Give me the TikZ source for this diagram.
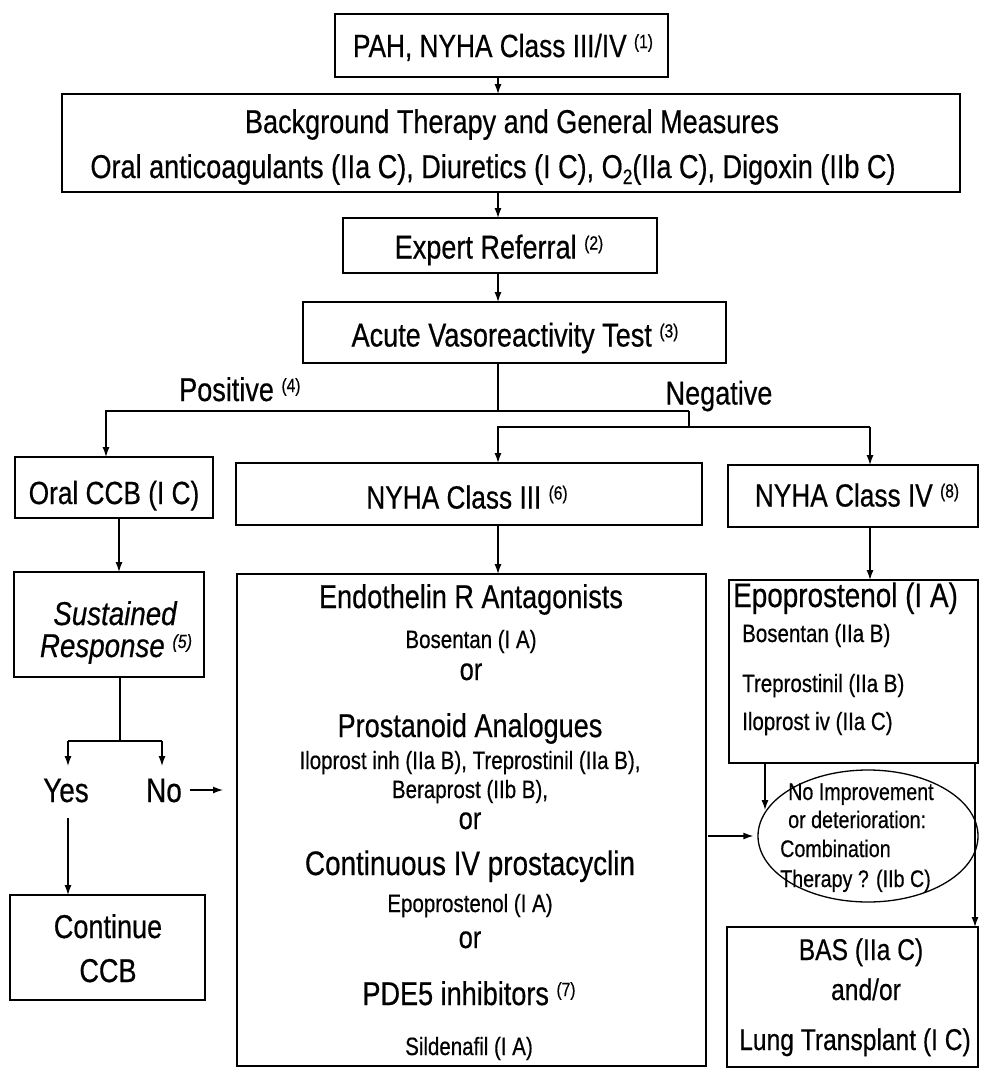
\documentclass[tikz,border=0pt]{standalone}
\usepackage{fontspec}
\setmainfont{Liberation Sans}[FakeStretch=0.82,FakeBold=0.5]
\newfontfamily\itfont{Liberation Sans Italic}[FakeStretch=0.84,FakeBold=0.5]
\usetikzlibrary{arrows.meta,shapes.geometric}
\newcommand\fsz[1]{\fontsize{#1}{#1}\selectfont}
\newcommand\refn[1]{\raisebox{9pt}{\fsz{19}(#1)}}
\begin{document}
\begin{tikzpicture}[x=1pt,y=-1pt,
  box/.style={draw, line width=1.8pt, inner sep=0pt, outer sep=0pt},
  tx/.style={inner sep=1pt, anchor=base},
  txl/.style={inner sep=1pt, anchor=base west},
  ln/.style={line width=1.3pt},
  arr/.style={line width=1.3pt, -{Latex[length=10pt,width=7pt]}}]
\useasboundingbox (0,0) rectangle (981,1068);

% ---------- boxes ----------
\node[box, minimum width=333pt, minimum height=63pt] (pah) at (501.5,45.5) {};
\node[box, minimum width=898pt, minimum height=98pt] (bg) at (511,143) {};
\node[box, minimum width=314pt, minimum height=55pt] (exp) at (500,245.5) {};
\node[box, minimum width=423pt, minimum height=61pt] (avt) at (514.5,332.5) {};
\node[box, minimum width=198pt, minimum height=61pt] (ccb) at (114,487.5) {};
\node[box, minimum width=466pt, minimum height=62pt] (n3) at (469,494) {};
\node[box, minimum width=250pt, minimum height=62pt] (n4) at (853,496) {};
\node[box, minimum width=190pt, minimum height=105pt] (sus) at (109,624.5) {};
\node[box, minimum width=195pt, minimum height=105pt] (cont) at (107.5,947.5) {};
\node[box, minimum width=469pt, minimum height=492pt] (big) at (471.5,820) {};
\node[box, minimum width=249pt, minimum height=183pt] (epo) at (853.5,671.5) {};
\node[box, minimum width=251pt, minimum height=140pt] (bas) at (852.5,997) {};
\node[ellipse, draw, line width=1.3pt, inner sep=0pt, minimum width=220pt, minimum height=132pt] (ell) at (868,836) {};

% ---------- texts ----------
\node[tx] (tpah) at (503,57) {\fsz{32}PAH, NYHA Class III/IV \refn{1}};
\node[tx] (tbg1) at (512,133) {\fsz{33}Background Therapy and General Measures};
\node[tx] (tbg2) at (493,178) {\fsz{33}Oral anticoagulants (IIa C), Diuretics (I C), O\raisebox{-6pt}{\fsz{21}2}(IIa C), Digoxin (IIb C)};
\node[tx] (texp) at (499,258.5) {\fsz{33}Expert Referral \refn{2}};
\node[tx] (tavt) at (515,346.5) {\fsz{33}Acute Vasoreactivity Test \refn{3}};
\node[txl] (tpos) at (178,401) {\fsz{33}Positive \refn{4}};
\node[tx] (tneg) at (719,404.5) {\fsz{33}Negative};
\node[tx] (tccb) at (114,504) {\fsz{32}Oral CCB (I C)};
\node[tx] (tn3) at (467,508.5) {\fsz{32}NYHA Class III \refn{6}};
\node[tx] (tn4) at (857,506.5) {\fsz{32}NYHA Class IV \refn{8}};
\node[tx] (tsus1) at (115,625) {\itfont\fsz{33}Sustained};
\node[tx] (tsus2) at (116,657) {\itfont\fsz{33}Response \refn{5}};
\node[tx] (tyes) at (66,802) {\fsz{34}Yes};
\node[tx] (tno) at (164,802) {\fsz{34}No};
\node[tx] (tcont1) at (108,938) {\fsz{33}Continue};
\node[tx] (tcont2) at (108,982) {\fsz{33}CCB};

\node[tx] (b1) at (471,608) {\fsz{33}Endothelin R Antagonists};
\node[tx] (b2) at (471,648) {\fsz{25}Bosentan (I A)};
\node[tx] (b3) at (471,680) {\fsz{31}or};
\node[tx] (b4) at (470,737) {\fsz{33}Prostanoid Analogues};
\node[tx] (b5) at (470,769) {\fsz{25}Iloprost inh (IIa B), Treprostinil (IIa B),};
\node[tx] (b6) at (470,798) {\fsz{25}Beraprost (IIb B),};
\node[tx] (b7) at (470,829) {\fsz{31}or};
\node[tx] (b8) at (470,875) {\fsz{34}Continuous IV prostacyclin};
\node[tx] (b9) at (470,912) {\fsz{25}Epoprostenol (I A)};
\node[tx] (b10) at (470,948) {\fsz{31}or};
\node[tx] (b11) at (469,1005) {\fsz{33}PDE5 inhibitors \refn{7}};
\node[tx] (b12) at (469,1055) {\fsz{25}Sildenafil (I A)};

\node[txl] (e1) at (732,607) {\fsz{34}Epoprostenol (I A)};
\node[txl] (e2) at (741,642) {\fsz{25}Bosentan (IIa B)};
\node[txl] (e3) at (741,692) {\fsz{25}Treprostinil (IIa B)};
\node[txl] (e4) at (741,730) {\fsz{25}Iloprost iv (IIa C)};

\node[txl] (c1) at (787,800) {\fsz{24}No Improvement};
\node[txl] (c2) at (787,828) {\fsz{24}or deterioration:};
\node[txl] (c3) at (779,857) {\fsz{24}Combination};
\node[txl] (c4) at (779,887) {\fsz{24}Therapy ? (IIb C)};

\node[tx] (r1) at (861,960) {\fsz{30}BAS (IIa C)};
\node[tx] (r2) at (866,1000) {\fsz{30}and/or};
\node[tx] (r3) at (855,1050) {\fsz{30}Lung Transplant (I C)};

% ---------- connector coordinates ----------
\coordinate (cx) at (498,0);
\coordinate (ul) at (106,411);
\coordinate (ur) at (689,411);
\coordinate (lr) at (689,427);
\coordinate (ll) at (498,427);
\coordinate (lrr) at (870,427);
\coordinate (sj) at (120,741);
\coordinate (yl) at (68,741);
\coordinate (nl) at (162,741);
\coordinate (ya) at (68,766);
\coordinate (na) at (162,766);
\coordinate (ys) at (68,818);
\coordinate (nx) at (190,790);
\coordinate (nxe) at (223,790);
\coordinate (ex) at (765,0);
\coordinate (exe) at (765,810);
\coordinate (rx) at (975,0);
\coordinate (cc) at (119,0);

% ---------- connectors ----------
\draw[arr] (pah.south -| cx) -- (bg.north -| cx);
\draw[arr] (bg.south -| cx) -- (exp.north -| cx);
\draw[arr] (exp.south -| cx) -- (avt.north -| cx);
\draw[ln] (avt.south -| cx) -- (cx |- ul);
\draw[arr] (ur) -- (ul) -- (ccb.north -| ul);
\draw[ln] (ur) -- (lr);
\draw[arr] (lrr) -- (ll) -- (n3.north -| ll);
\draw[arr] (lrr) -- (n4.north -| lrr);
\draw[arr] (ccb.south -| cc) -- (sus.north -| cc);
\draw[arr] (n3.south -| cx) -- (big.north -| cx);
\draw[arr] (n4.south -| lrr) -- (epo.north -| lrr);
\draw[ln] (sus.south -| sj) -- (sj);
\draw[ln] (yl) -- (nl);
\draw[arr] (yl) -- (ya);
\draw[arr] (nl) -- (na);
\draw[arr] (nx) -- (nxe);
\draw[arr] (ys) -- (cont.north -| ys);
\draw[arr] (epo.south -| ex) -- (exe);
\draw[arr] (epo.south -| rx) -- (bas.north -| rx);
\draw[arr] ([xshift=2pt]big.east |- ell.west) -- ([xshift=-4pt]ell.west);
\end{tikzpicture}
\end{document}
